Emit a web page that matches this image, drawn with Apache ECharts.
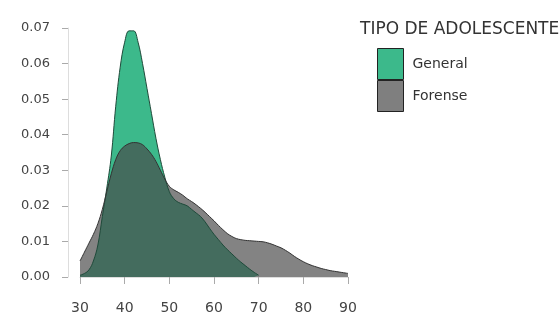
<!DOCTYPE html>
<html>
<head>
<meta charset="utf-8">
<script src="https://cdn.jsdelivr.net/npm/echarts@6/dist/echarts.min.js"></script>
<style>
html,body{margin:0;padding:0;background:#fff;}
#chart{width:559px;height:325px;}
</style>
</head>
<body>
<div id="chart"></div>
<script>
// Density curves
const generalX = [30,31,32,33,34,35,36,37,38,39,40,41,42,43,44,45,46,47,48,49,50,51,52,53,54,55,56,57,58,59,60,61,62,63,64,65,66,67,68,69,70];
const generalY = [0.0005,0.001,0.002,0.0045,0.009,0.017,0.025,0.034,0.048,0.059,0.066,0.0692,0.0692,0.066,0.060,0.053,0.046,0.039,0.033,0.028,0.024,0.022,0.021,0.0205,0.020,0.019,0.018,0.017,0.0155,0.0137,0.012,0.0105,0.009,0.0077,0.0065,0.0053,0.0042,0.0032,0.0022,0.0013,0.0005];
const forenseX = [30,31,32,33,34,35,36,37,38,39,40,41,42,43,44,45,46,47,48,49,50,51,52,53,54,55,56,57,58,59,60,61,62,63,64,65,66,67,68,69,70,71,72,73,74,75,76,77,78,79,80,81,82,83,84,85,86,87,88,89,90];
const forenseY = [0.0045,0.007,0.0095,0.012,0.015,0.019,0.024,0.029,0.033,0.0355,0.0368,0.0375,0.0378,0.0377,0.0372,0.036,0.0345,0.0325,0.030,0.0275,0.0255,0.0245,0.0238,0.023,0.022,0.0212,0.0203,0.0193,0.0182,0.017,0.0158,0.0145,0.0133,0.0122,0.0114,0.0108,0.0105,0.0103,0.0102,0.0101,0.0100,0.0099,0.0096,0.0092,0.0087,0.0082,0.0075,0.0067,0.0058,0.005,0.0043,0.0037,0.0032,0.0028,0.0024,0.0021,0.0018,0.0016,0.0014,0.0012,0.001];
const seriesNames = ['General','Forense'];
const legendTitle = 'TIPO DE ADOLESCENTES';

const chart = echarts.init(document.getElementById('chart'));
const fontFam = 'DejaVu Sans, sans-serif';
chart.setOption({
  animation: false,
  backgroundColor: '#fff',
  title: {
    text: legendTitle, left: 360, top: 21, padding: 0,
    textStyle: {fontSize: 17, fontWeight: 'normal', color: '#333', fontFamily: fontFam}
  },
  legend: {
    orient: 'vertical', left: 377, top: 48, padding: 0,
    itemWidth: 26, itemHeight: 31, itemGap: 0,
    icon: 'rect',
    textStyle: {fontSize: 14, color: '#333', fontFamily: fontFam, padding: [0, 0, 0, 4]},
    data: [
      {name: seriesNames[0], itemStyle: {color: '#3cb98b', borderColor: '#222', borderWidth: 1}},
      {name: seriesNames[1], itemStyle: {color: '#7f7f7f', borderColor: '#222', borderWidth: 1}}
    ]
  },
  grid: {left: 80, right: 211, top: 28, bottom: 48},
  xAxis: {
    type: 'value', min: 30, max: 90, interval: 10, offset: 12,
    axisLine: {show: true, lineStyle: {color: '#ddd'}},
    axisTick: {show: true, length: 7, lineStyle: {color: '#aaa'}},
    axisLabel: {margin: 12, fontSize: 14, color: '#444', fontFamily: fontFam},
    splitLine: {show: false}
  },
  yAxis: {
    type: 'value', min: 0, max: 0.07, interval: 0.01, offset: 12,
    axisLine: {show: true, lineStyle: {color: '#ddd'}},
    axisTick: {show: true, length: 6, lineStyle: {color: '#aaa'}},
    axisLabel: {margin: 18, fontSize: 13, color: '#444', fontFamily: fontFam,
      formatter: v => v.toFixed(2)},
    splitLine: {show: false}
  },
  series: [
    {
      name: seriesNames[0], type: 'line', smooth: 0.4, showSymbol: false, symbol: 'none',
      data: generalX.map((x, i) => [x, generalY[i]]),
      itemStyle: {color: '#3cb98b'},
      lineStyle: {color: '#1f4a3a', width: 1},
      areaStyle: {color: '#3cb98b', opacity: 1}
    },
    {
      name: seriesNames[1], type: 'line', smooth: 0.4, showSymbol: false, symbol: 'none',
      data: forenseX.map((x, i) => [x, forenseY[i]]),
      itemStyle: {color: '#7f7f7f'},
      lineStyle: {color: '#333', width: 1},
      areaStyle: {color: 'rgba(72,72,72,0.68)', opacity: 1}
    }
  ]
});
</script>
</body>
</html>
